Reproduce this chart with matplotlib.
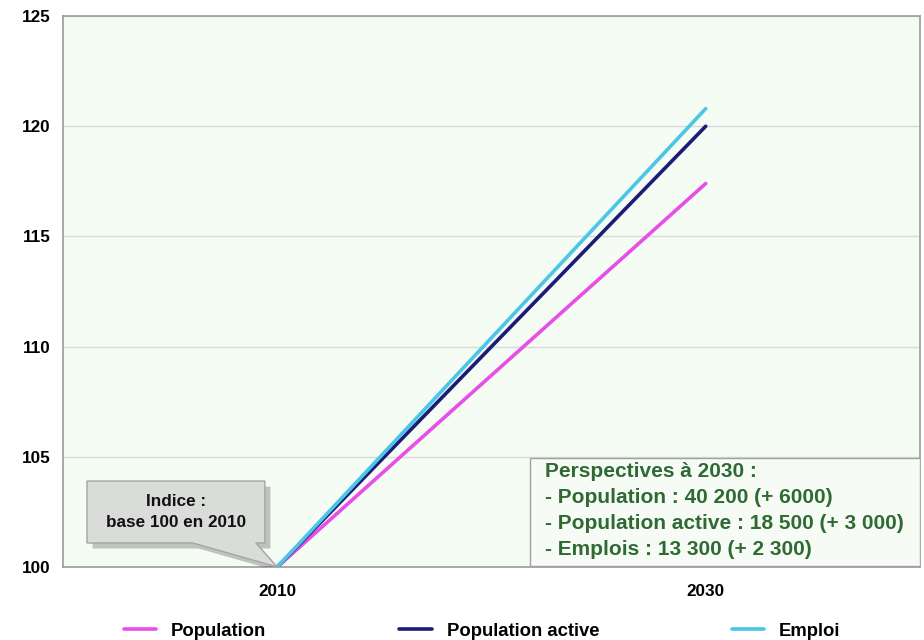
import matplotlib
matplotlib.use("Agg")
import matplotlib.pyplot as plt
import matplotlib.patheffects as pe
from matplotlib.patches import Polygon, Rectangle

years = ["2010", "2030"]
population = [100, 117.4]
population_active = [100, 120.0]
emploi = [100, 120.8]
series_names = ["Population", "Population active", "Emploi"]
yticks = [100, 105, 110, 115, 120, 125]

colors = ["#e84ee8", "#1c1c78", "#4cc6e6"]
FONT = "Liberation Sans"

fig = plt.figure(figsize=(9.24, 6.4), dpi=100)
ax = fig.add_axes([63/924, 73/640, 857/924, 551/640])
ax.set_facecolor("#f4fcf4")

x = list(range(len(years)))
lines = []
for vals, name, c in zip([population, population_active, emploi], series_names, colors):
    l, = ax.plot(x, vals, color=c, lw=2.6, label=name, solid_capstyle="round", zorder=3)
    lines.append(l)

ax.set_xlim(-0.5, 1.5)
ax.set_ylim(100, 125)
ax.set_yticks(yticks)
ax.set_xticks(x)
ax.set_xticklabels(years)
ax.grid(axis="y", color="#d8dcd8", lw=1)
ax.set_axisbelow(True)
ax.tick_params(length=0, labelsize=12.3)
ax.tick_params(axis="x", pad=12)
ax.tick_params(axis="y", pad=9)
for t in ax.get_xticklabels() + ax.get_yticklabels():
    t.set_fontweight("bold")
    t.set_family(FONT)
for s in ax.spines.values():
    s.set_color("#9a9a9a")
    s.set_linewidth(1.2)

# callout (box with pointer to the 2010 base point)
bx0, bx1, by0, by1 = -0.444, -0.029, 101.09, 103.9
callout = Polygon([(bx0, by1), (bx1, by1), (bx1, by0), (-0.05, by0), (0, 100),
                   (-0.197, by0), (bx0, by0)], closed=True,
                  fc="#dadcda", ec="#a4a6a4", lw=1, zorder=4)
callout.set_path_effects([pe.SimplePatchShadow(offset=(4, -4), alpha=0.3), pe.Normal()])
ax.add_patch(callout)
ax.text((bx0 + bx1) / 2, (by0 + by1) / 2, "Indice :\nbase 100 en 2010", ha="center", va="center",
        fontsize=12.3, fontweight="bold", family=FONT, color="#111111", linespacing=1.5, zorder=5)

# info box
ax.add_patch(Rectangle((0.545, 0.002), 0.455, 0.196, transform=ax.transAxes,
                       fc="#f6fbf6", ec="#a0a0a0", lw=1, zorder=5))
ax.text(0.5624, 0.19, "Perspectives à 2030 :\n- Population : 40 200 (+ 6000)\n- Population active : 18 500 (+ 3 000)\n- Emplois : 13 300 (+ 2 300)",
        transform=ax.transAxes, ha="left", va="top", fontsize=15, fontweight="bold", family=FONT,
        color="#2f6a33", linespacing=1.47, zorder=6)

leg = fig.legend(handles=lines, labels=series_names, loc="center", ncol=3,
                 bbox_to_anchor=(0.522, 1 - 631/640), frameon=False, columnspacing=7.2,
                 handlelength=1.75, handletextpad=0.8,
                 prop=dict(family=FONT, weight="bold", size=13.3))

fig.savefig("out.png", dpi=100)
